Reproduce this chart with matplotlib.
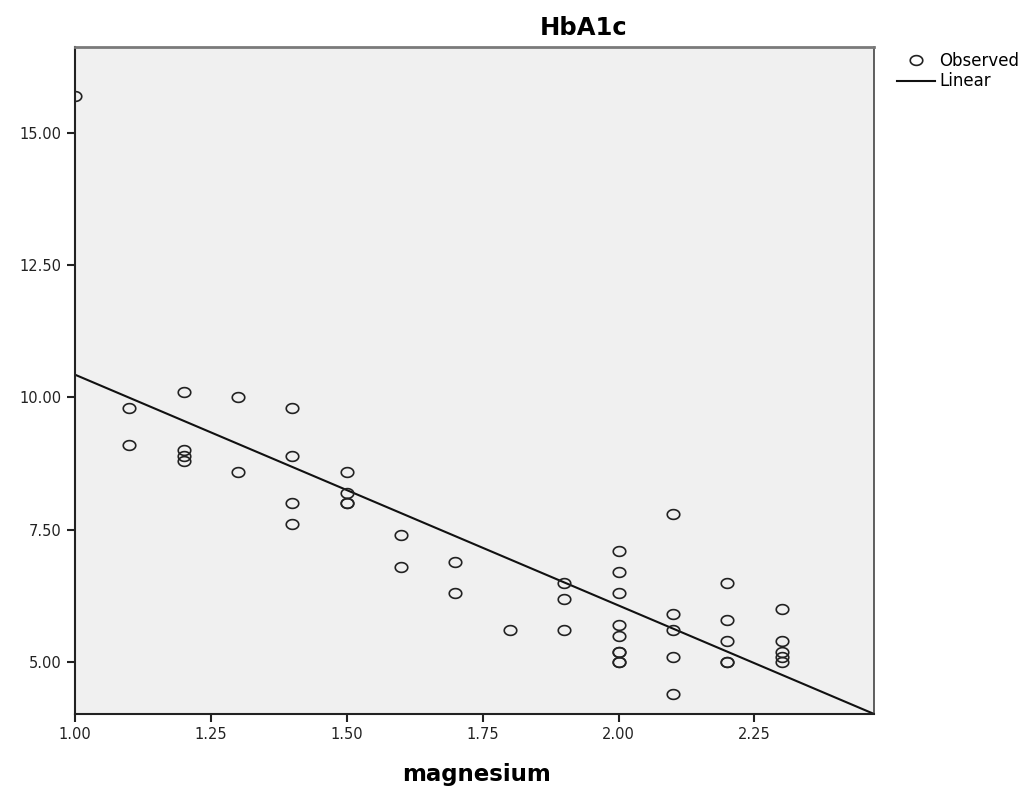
import numpy as np
import matplotlib
matplotlib.use("Agg")
import matplotlib.pyplot as plt
from matplotlib.path import Path

# observed values (magnesium, HbA1c)
magnesium = [1.0,
             1.1, 1.1,
             1.2, 1.2, 1.2, 1.2,
             1.3, 1.3,
             1.4, 1.4, 1.4, 1.4,
             1.5, 1.5, 1.5, 1.5,
             1.6, 1.6,
             1.7, 1.7,
             1.8,
             1.9, 1.9, 1.9,
             2.0, 2.0, 2.0, 2.0, 2.0, 2.0, 2.0, 2.0, 2.0,
             2.1, 2.1, 2.1, 2.1, 2.1,
             2.2, 2.2, 2.2, 2.2, 2.2,
             2.3, 2.3, 2.3, 2.3, 2.3]
hba1c = [15.7,
         9.8, 9.1,
         10.1, 9.0, 8.9, 8.8,
         10.0, 8.6,
         9.8, 8.9, 8.0, 7.6,
         8.6, 8.2, 8.0, 8.0,
         7.4, 6.8,
         6.9, 6.3,
         5.6,
         6.5, 6.2, 5.6,
         7.1, 6.7, 6.3, 5.7, 5.5, 5.2, 5.2, 5.0, 5.0,
         7.8, 5.9, 5.6, 5.1, 4.4,
         6.5, 5.8, 5.4, 5.0, 5.0,
         6.0, 5.4, 5.2, 5.1, 5.0]

# linear fit
fit_intercept = 14.79
fit_slope = -4.36

x_ticks = [1.00, 1.25, 1.50, 1.75, 2.00, 2.25]
y_ticks = [5.0, 7.5, 10.0, 12.5, 15.0]
x_range = (1.0, 2.47)
y_range = (4.02, 16.62)

plt.rcParams['font.family'] = ['DejaVu Sans']

fig = plt.figure(figsize=(10.3, 7.87), dpi=100)
W, H = 1030, 787
ax = fig.add_axes([75 / W, 1 - 714 / H, (874 - 75) / W, (714 - 47) / H])
ax.set_facecolor('#f0f0f0')

# slightly wide ellipse for the markers
t = np.linspace(0, 2 * np.pi, 60)
ell = Path(np.column_stack([np.cos(t), 0.78 * np.sin(t)]), closed=True)

obs, = ax.plot(magnesium, hba1c, linestyle='none', marker=ell, markersize=9,
               markerfacecolor='none', markeredgecolor='#222222', markeredgewidth=1.2,
               label='Observed', zorder=3)

xs = np.array(x_range)
lin, = ax.plot(xs, fit_intercept + fit_slope * xs, color='#111111', lw=1.5, label='Linear')

ax.set_xlim(*x_range)
ax.set_ylim(*y_range)
ax.set_xticks(x_ticks)
ax.set_yticks(y_ticks)
ax.set_xticklabels(['%.2f' % v for v in x_ticks])
ax.set_yticklabels(['%.2f' % v for v in y_ticks])
ax.tick_params(direction='out', length=6, width=1.5, labelsize=10.5, colors='#222222')

for side in ['left', 'bottom']:
    ax.spines[side].set_color('#222222')
    ax.spines[side].set_linewidth(1.5)
ax.spines['top'].set_color('#7a7a7a')
ax.spines['top'].set_linewidth(2)
ax.spines['right'].set_color('#444444')
ax.spines['right'].set_linewidth(1.2)

fig.text(584 / W, 1 - 28 / H, 'HbA1c', ha='center', va='center',
         fontsize=17.5, fontweight='bold')
fig.text(476 / W, 1 - 775 / H, 'magnesium', ha='center', va='center',
         fontsize=16.5, fontweight='bold')

fig.legend(handles=[obs, lin], loc='upper left', bbox_to_anchor=(897 / W, 1 - 52 / H),
           frameon=False, fontsize=12, handlelength=2.3, handletextpad=0.25,
           labelspacing=0.15, borderpad=0, borderaxespad=0)

fig.savefig('out.png', dpi=100)
